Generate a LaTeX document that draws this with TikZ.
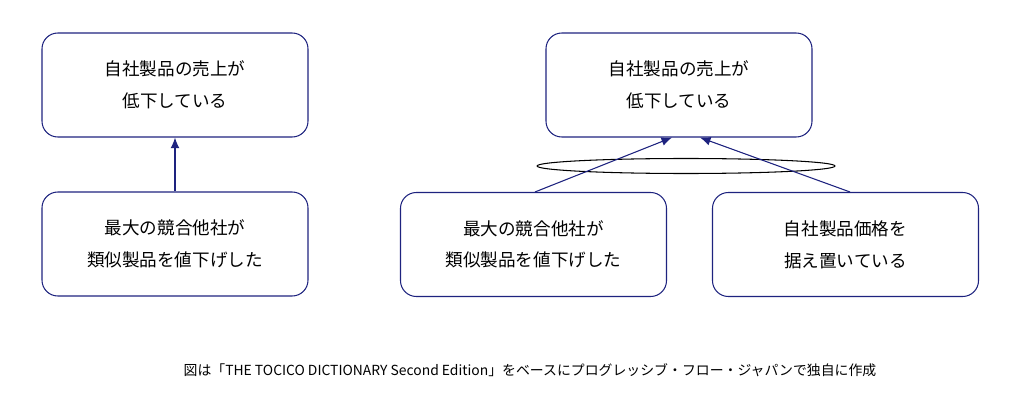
\documentclass[tikz,border=0pt]{standalone}
\usepackage{fontspec}
\newfontfamily\jp{Noto Sans CJK JP}
\usetikzlibrary{arrows.meta}
\definecolor{linkblue}{HTML}{1E237F}
\tikzset{
  causebox/.style={draw=linkblue, semithick, rounded corners=9pt, minimum width=5.32cm, minimum height=2.08cm,
    align=center, font=\jp\fontsize{10}{18}\selectfont},
  causearrow/.style={draw=linkblue, semithick, -{Latex[length=6pt,width=5pt]}, fill=linkblue}
}
\begin{document}
\begin{tikzpicture}
  \useasboundingbox (0,0) rectangle (20.48,8.22);
  % left tree
  \node[causebox] (effA) at (3.5,6.52) {自社製品の売上が\\低下している};
  \node[causebox] (causeA) at (3.5,3.34) {最大の競合他社が\\類似製品を値下げした};
  \draw[causearrow] (causeA.north) -- (effA.south);
  % right tree
  \node[causebox] (effB) at (13.58,6.52) {自社製品の売上が\\低下している};
  \node[causebox] (causeB) at (10.67,3.33) {最大の競合他社が\\類似製品を値下げした};
  \node[causebox] (causeC) at (16.91,3.33) {自社製品価格を\\据え置いている};
  \draw[semithick] (13.72,4.9) ellipse (2.98 and 0.15);
  \draw[causearrow] ([xshift=0.03cm]causeB.north) -- ([xshift=-0.14cm]effB.south);
  \draw[causearrow] ([xshift=0.09cm]causeC.north) -- ([xshift=0.42cm]effB.south);
  % caption
  \node[font=\jp\fontsize{7.9}{9}\selectfont] (note) at (10.6,0.82)
    {図は「THE TOCICO DICTIONARY Second Edition」をベースにプログレッシブ・フロー・ジャパンで独自に作成};
\end{tikzpicture}
\end{document}
